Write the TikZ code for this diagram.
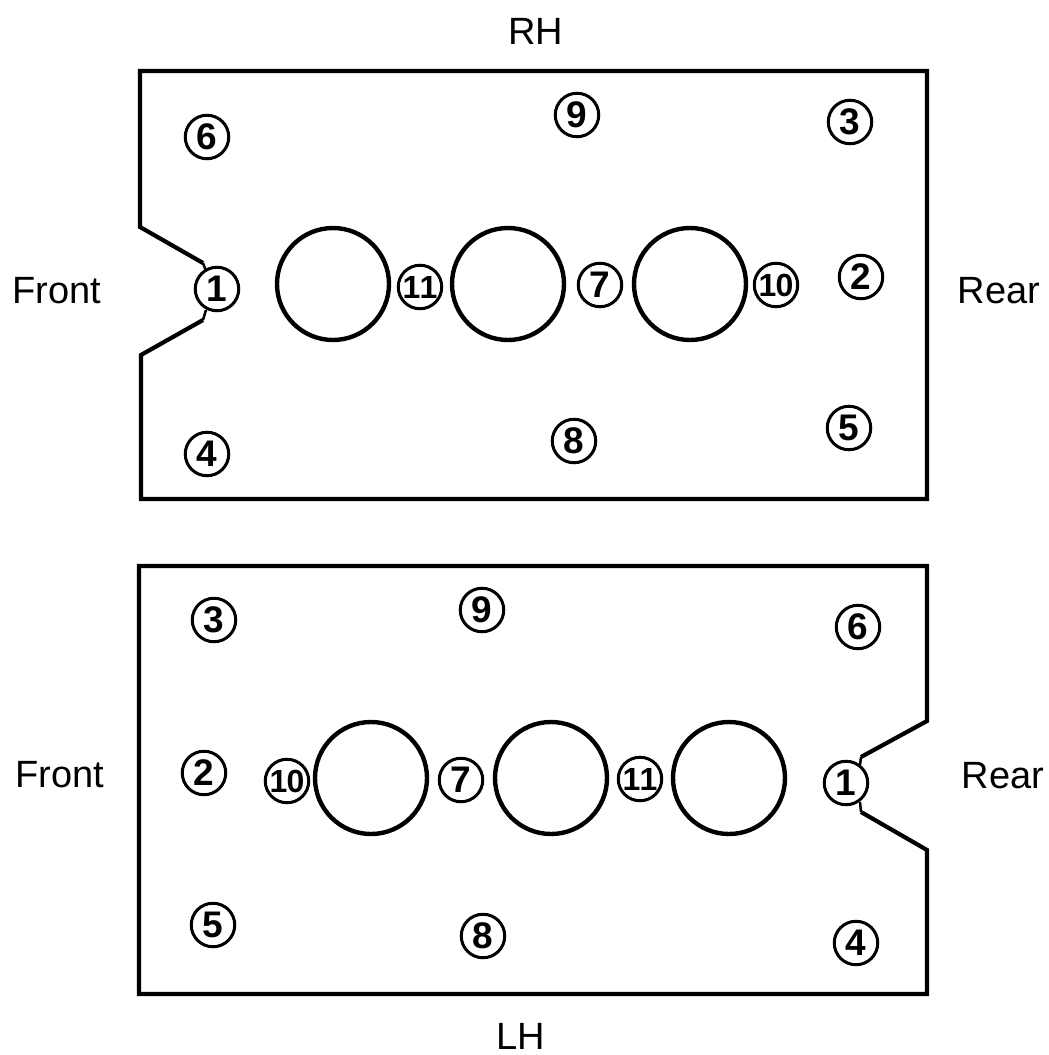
\documentclass[tikz,border=0pt]{standalone}
\usepackage{fontspec}
\setmainfont{Liberation Sans}
\tikzset{
  bolt/.style={circle,draw,line width=3pt,minimum size=43.5pt,inner sep=0pt,font=\bfseries\fontsize{37}{37}\selectfont},
  smallbolt/.style={bolt,font=\bfseries\fontsize{32}{32}\selectfont},
  side/.style={inner sep=0pt,font=\fontsize{38}{38}\selectfont},
  bore/.style={circle,draw,line width=4.4pt,minimum size=112pt,inner sep=0pt},
  head/.style={line width=4.2pt,line join=miter}
}
\begin{document}
\begin{tikzpicture}[x=1pt,y=-1pt]
\useasboundingbox (0,0) rectangle (1049,1055);
\node[side] (rh) at (536,31) {RH};
\node[side] (lh) at (521,1036) {LH};
\node[side] (fronttop) at (57,291) {Front};
\node[side] (reartop) at (999,291) {Rear};
\node[side] (frontbot) at (60,775) {Front};
\node[side] (rearbot) at (1003,776) {Rear};
% upper head
\draw[head] (203,263) -- (140,227) -- (140,71) -- (927,71) -- (927,499) -- (141,499) -- (141,355) -- (203,320);
\draw[head,line width=2.5pt] (203,263) -- (206,271);
\draw[head,line width=2.5pt] (203,320) -- (206,310);
\node[bore] (boreA) at (333,284) {};
\node[bore] (boreB) at (508,284) {};
\node[bore] (boreC) at (690,284) {};
\node[bolt] (topsix) at (207,137) {6};
\node[bolt] (topnine) at (577,115) {9};
\node[bolt] (topthree) at (850,122) {3};
\node[bolt,fill=white] (topone) at (217,289) {1};
\node[smallbolt] (topeleven) at (420,287) {1\hspace{-1pt}1};
\node[bolt] (topseven) at (600,285) {7};
\node[smallbolt] (topten) at (776,285) {1\hspace{-1pt}0};
\node[bolt] (toptwo) at (861,277) {2};
\node[bolt] (topfour) at (207,454) {4};
\node[bolt] (topeight) at (574,441) {8};
\node[bolt] (topfive) at (849,428) {5};
% lower head
\draw[head] (861,757) -- (927,721) -- (927,566) -- (139,566) -- (139,994) -- (927,994) -- (927,850) -- (861,812);
\draw[head,line width=2.5pt] (861,757) -- (860,765);
\draw[head,line width=2.5pt] (861,812) -- (860,802);
\node[bore] (boreD) at (371,778) {};
\node[bore] (boreE) at (551,778) {};
\node[bore] (boreF) at (729,778) {};
\node[bolt] (botthree) at (214,620) {3};
\node[bolt] (botnine) at (482,610) {9};
\node[bolt] (botsix) at (858,627) {6};
\node[bolt] (bottwo) at (204,773) {2};
\node[smallbolt] (botten) at (287,781) {1\hspace{-1pt}0};
\node[bolt] (botseven) at (461,780) {7};
\node[smallbolt] (boteleven) at (640,779) {1\hspace{-1pt}1};
\node[bolt,fill=white] (botone) at (846,783) {1};
\node[bolt] (botfive) at (213,925) {5};
\node[bolt] (boteight) at (483,936) {8};
\node[bolt] (botfour) at (856,943) {4};
\end{tikzpicture}
\end{document}
